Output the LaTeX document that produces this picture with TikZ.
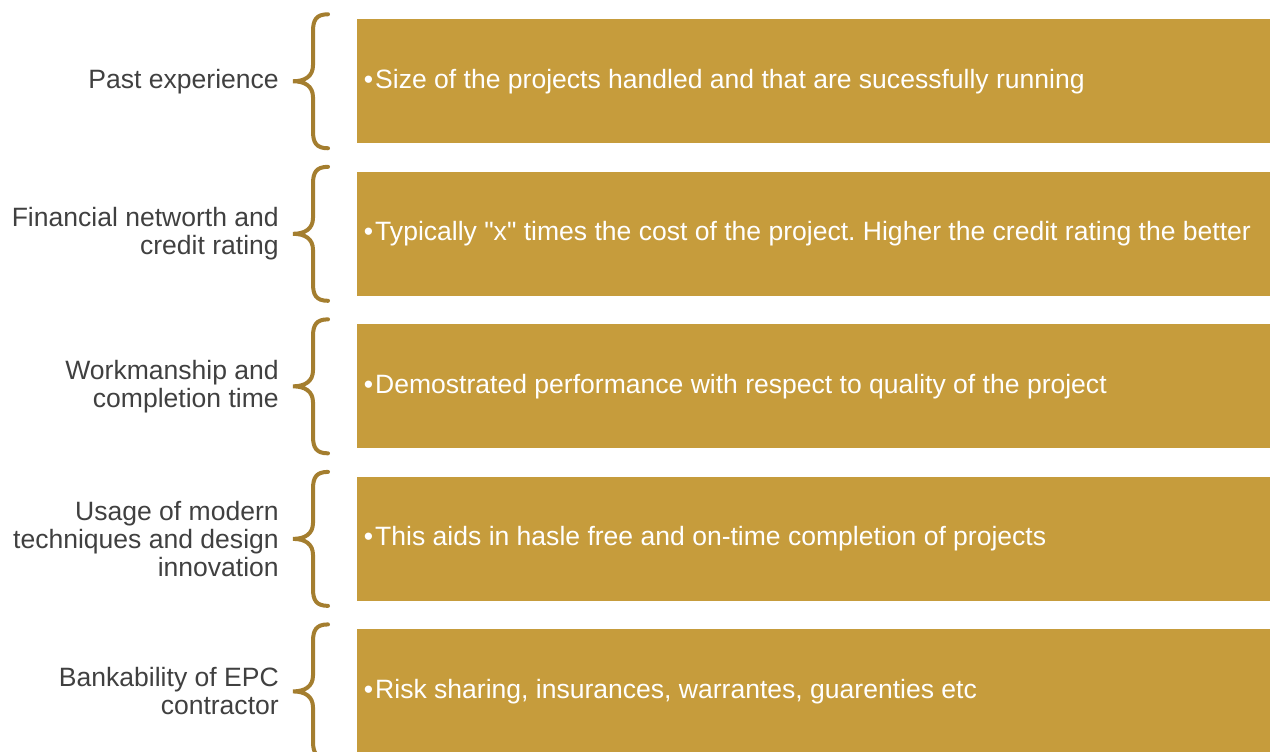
\documentclass[tikz,border=0pt]{standalone}
\usepackage{fontspec}
\setmainfont{Liberation Sans}[Ligatures=TeXOff]
\usetikzlibrary{positioning}
\definecolor{boxgold}{HTML}{C69C3C}
\definecolor{bracegold}{HTML}{A47E2F}
\definecolor{labelgray}{HTML}{404040}
\newcommand{\goldbrace}[1]{%
  \draw[bracestyle, shift={(#1.west)}]
    (-29,-67) .. controls (-41,-67) and (-44,-61) .. (-44,-50) -- (-44,-16)
    .. controls (-44,-5) and (-52,0) .. (-64,0)
    .. controls (-52,0) and (-44,5) .. (-44,16) -- (-44,50)
    .. controls (-44,61) and (-41,67) .. (-29,67);}
\newcommand{\bul}{•\hspace{1.5pt}}
\frenchspacing
\begin{document}
\begin{tikzpicture}[
      x=0.75pt, y=-0.75pt,
      node distance=21pt,
      box/.style={rectangle, fill=boxgold, minimum width=684.75pt, minimum height=93pt, inner sep=0pt},
      boxtext/.style={anchor=west, inner sep=0pt, text=white, font=\fontsize{19.9}{21}\selectfont},
      label/.style={inner sep=0pt, align=right, text=labelgray, font=\fontsize{19.9}{21}\selectfont},
      bracestyle/.style={draw=bracegold, line width=3pt, line cap=round}
    ]
    \useasboundingbox (0,0) rectangle (1270,751);
    \node[box, anchor=north west] (box1) at (357,19) {};
    \node[box, below=of box1] (box2) {};
    \node[box, below=of box2] (box3) {};
    \node[box, below=of box3] (box4) {};
    \node[box, below=of box4] (box5) {};

    \node[boxtext] (t1) at ([xshift=5pt]box1.west) {\bul Size of the projects handled and that are sucessfully running};
    \node[boxtext] (t2) at ([xshift=5pt]box2.west) {\bul Typically "x" times the cost of the project. Higher the credit rating the better};
    \node[boxtext] (t3) at ([xshift=5pt]box3.west) {\bul Demostrated performance with respect to quality of the project};
    \node[boxtext] (t4) at ([xshift=5pt]box4.west) {\bul This aids in hasle free and on-time completion of projects};
    \node[boxtext] (t5) at ([xshift=5pt]box5.west) {\bul Risk sharing, insurances, warrantes, guarenties etc};

    \node[label, left=58.5pt of box1] (l1) {Past experience};
    \node[label, left=58.5pt of box2] (l2) {Financial networth and\\credit rating};
    \node[label, left=58.5pt of box3] (l3) {Workmanship and\\completion time};
    \node[label, left=58.5pt of box4] (l4) {Usage of modern\\techniques and design\\innovation};
    \node[label, left=58.5pt of box5] (l5) {Bankability of EPC\\contractor};

    \goldbrace{box1}
    \goldbrace{box2}
    \goldbrace{box3}
    \goldbrace{box4}
    \goldbrace{box5}
  \end{tikzpicture}
\end{document}
